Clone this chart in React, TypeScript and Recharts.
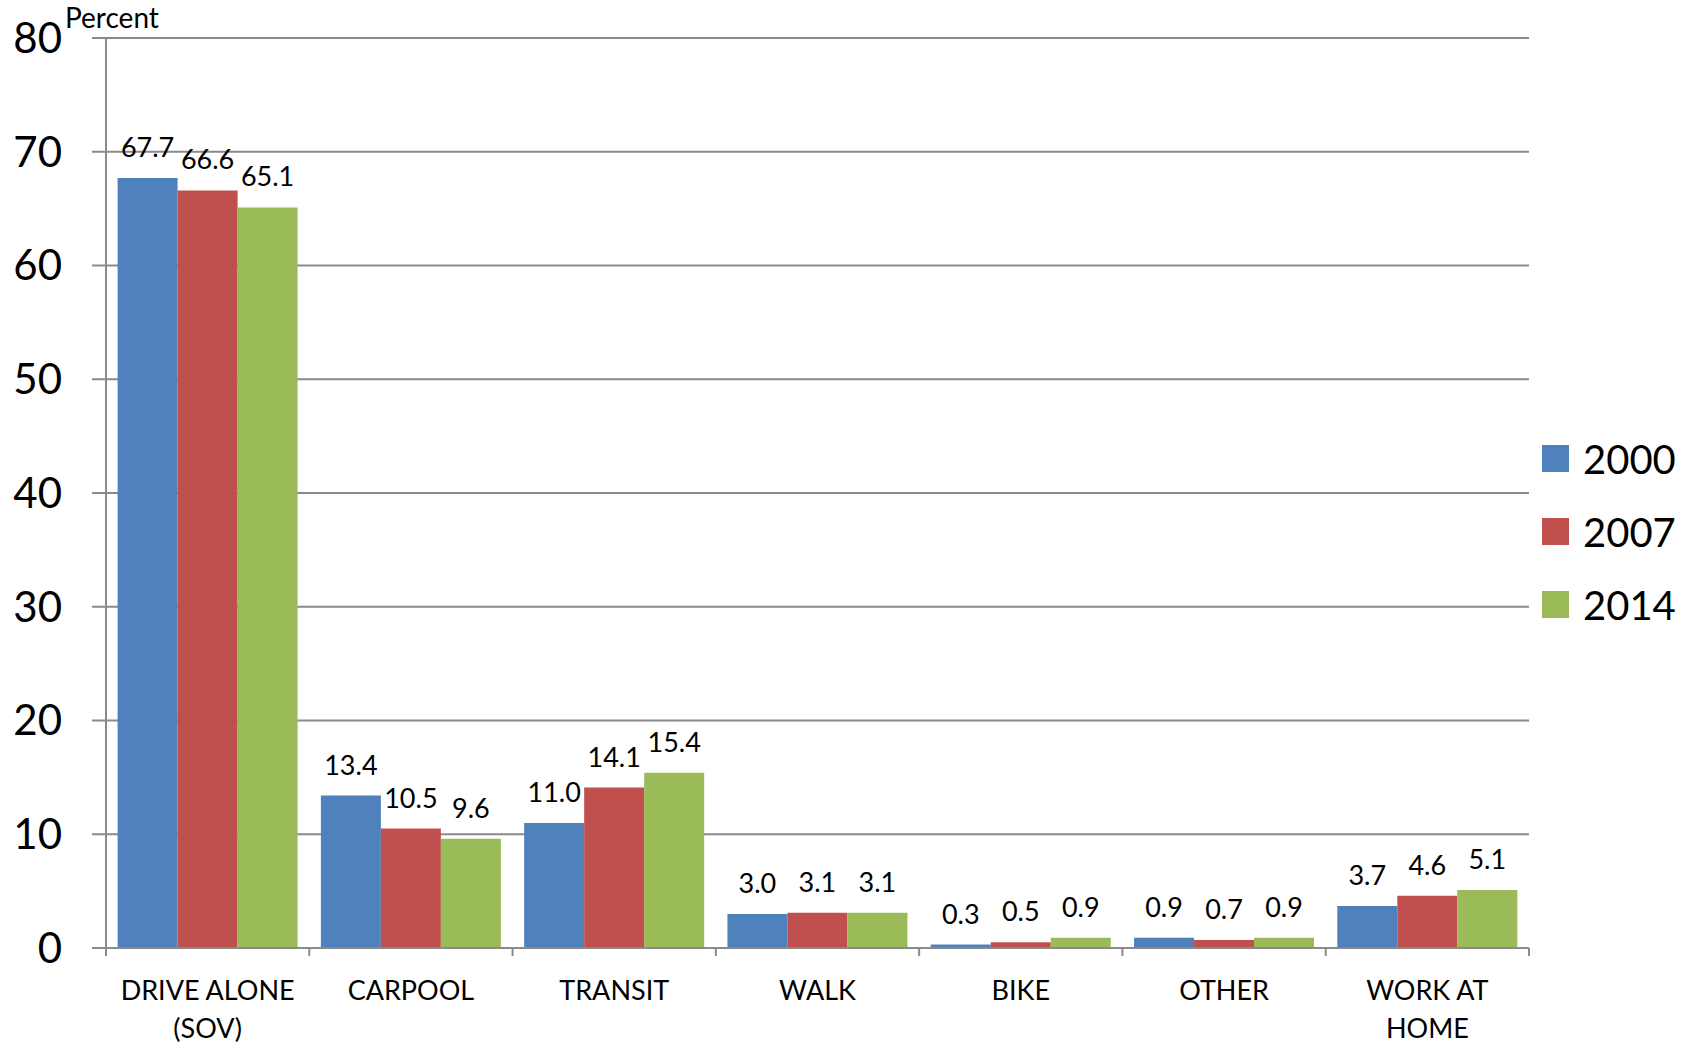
import { BarChart, Bar, XAxis, YAxis, CartesianGrid, Legend, LabelList, Label } from "recharts";

const CATEGORIES = ["DRIVE ALONE\n(SOV)", "CARPOOL", "TRANSIT", "WALK", "BIKE", "OTHER", "WORK AT\nHOME"];
const Y2000 = [67.7, 13.4, 11.0, 3.0, 0.3, 0.9, 3.7];
const Y2007 = [66.6, 10.5, 14.1, 3.1, 0.5, 0.7, 4.6];
const Y2014 = [65.1, 9.6, 15.4, 3.1, 0.9, 0.9, 5.1];
const Y_TICKS = [0, 10, 20, 30, 40, 50, 60, 70, 80];

const SERIES = [
  { key: "y2000", name: "2000", color: "#4F81BD" },
  { key: "y2007", name: "2007", color: "#C0504D" },
  { key: "y2014", name: "2014", color: "#9BBB59" },
];

const data = CATEGORIES.map((cat, i) => ({
  cat,
  y2000: Y2000[i],
  y2007: Y2007[i],
  y2014: Y2014[i],
}));

const FONT = "Lato, 'Open Sans', sans-serif";
const GRID = "#8a8a8a";

function CategoryTick(props: any) {
  const { x, y, payload, index } = props;
  const half = payload?.offset ?? 101.7;
  const lines = String(payload.value).split("\n");
  return (
    <g>
      <line x1={x - half} y1={y} x2={x - half} y2={y + 8} stroke={GRID} strokeWidth={2} />
      {index === CATEGORIES.length - 1 && (
        <line x1={x + half} y1={y} x2={x + half} y2={y + 8} stroke={GRID} strokeWidth={2} />
      )}
      {lines.map((l, k) => (
        <text key={k} x={x} y={y + 52 + k * 38} textAnchor="middle" fontSize={27} fill="#000" fontFamily={FONT}>
          {l}
        </text>
      ))}
    </g>
  );
}

function LegendBox() {
  return (
    <div style={{ fontFamily: FONT }}>
      {SERIES.map((s) => (
        <div key={s.key} style={{ display: "flex", alignItems: "center", height: 73 }}>
          <div style={{ width: 27, height: 27, background: s.color, marginRight: 14 }} />
          <span style={{ fontSize: 40, color: "#000", lineHeight: "40px" }}>{s.name}</span>
        </div>
      ))}
    </div>
  );
}

export default function App() {
  return (
    <div style={{ width: 1696, height: 1043, background: "#fff", fontFamily: FONT }}>
      <style>{`body{margin:0}`}</style>
      <BarChart
        width={1696}
        height={1043}
        data={data}
        margin={{ top: 38, right: 167, left: 0, bottom: 0 }}
        barCategoryGap="5.7%"
        barGap={0}
      >
        <CartesianGrid vertical={false} stroke={GRID} strokeWidth={2} />
        <XAxis
          dataKey="cat"
          height={95}
          interval={0}
          tickLine={false}
          tickSize={0}
          tickMargin={0}
          axisLine={{ stroke: GRID, strokeWidth: 2 }}
          tick={<CategoryTick />}
        />
        <YAxis
          width={106}
          domain={[0, 80]}
          ticks={Y_TICKS}
          interval={0}
          tickSize={14}
          tickMargin={30}
          axisLine={{ stroke: GRID, strokeWidth: 2 }}
          tickLine={{ stroke: GRID, strokeWidth: 2 }}
          tick={{ fontSize: 42, fill: "#000", fontFamily: FONT }}
        >
          <Label
            content={(p: any) => (
              <text x={(p.viewBox?.x ?? 0) + 65} y={(p.viewBox?.y ?? 38) - 10} fontSize={28} fill="#000" fontFamily={FONT}>
                Percent
              </text>
            )}
          />
        </YAxis>
        <Legend
          layout="vertical"
          align="center"
          verticalAlign="middle"
          content={<LegendBox />}
          wrapperStyle={{ left: 1542, top: 422, width: 154 }}
        />
        {SERIES.map((s) => (
          <Bar key={s.key} dataKey={s.key} name={s.name} fill={s.color} isAnimationActive={false}>
            <LabelList
              dataKey={s.key}
              position="top"
              offset={21}
              formatter={(v: any) => Number(v).toFixed(1)}
              style={{ fontSize: 27, fill: "#000", fontFamily: FONT }}
            />
          </Bar>
        ))}
      </BarChart>
    </div>
  );
}
